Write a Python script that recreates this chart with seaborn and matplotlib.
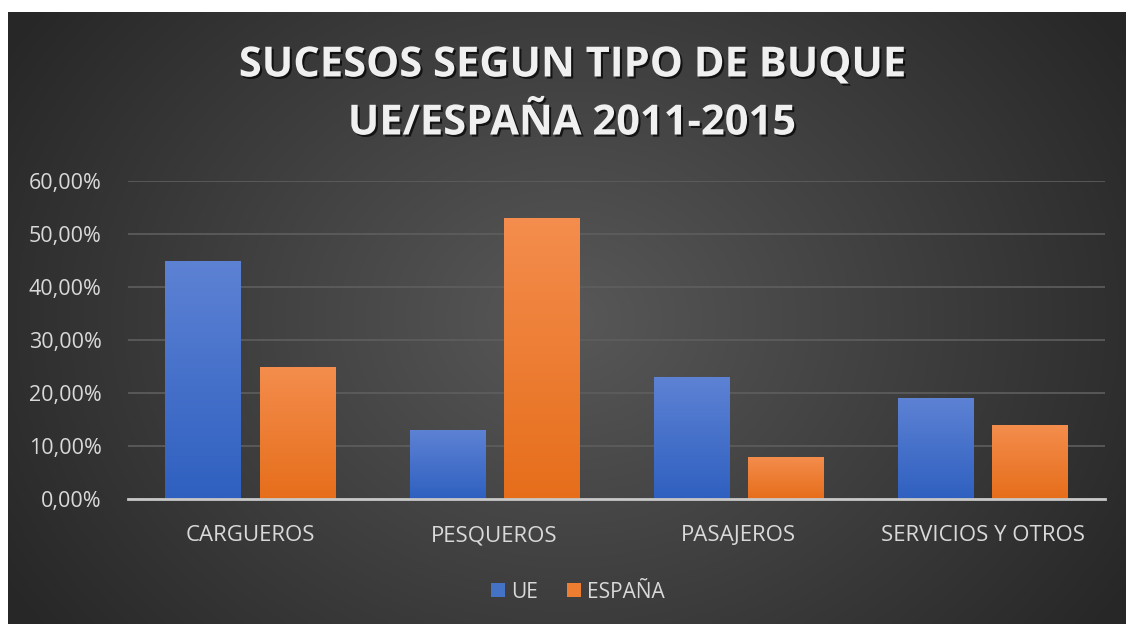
import numpy as np
import pandas as pd
import matplotlib
matplotlib.use("Agg")
import matplotlib.pyplot as plt
import matplotlib.patheffects as pe
from matplotlib.ticker import FuncFormatter
import seaborn as sns

# ---- data ----
categorias = ["CARGUEROS", "PESQUEROS", "PASAJEROS", "SERVICIOS Y OTROS"]
ue = [45, 13, 23, 19]
espana = [25, 53, 8, 14]
series = ["UE", "ESPAÑA"]
titulo = "SUCESOS SEGUN TIPO DE BUQUE\nUE/ESPAÑA 2011-2015"

df = pd.DataFrame({
    "tipo": categorias * 2,
    "region": [series[0]] * len(categorias) + [series[1]] * len(categorias),
    "valor": ue + espana,
})

sns.set_theme(style="dark")
plt.rcParams["font.family"] = ["Open Sans", "DejaVu Sans"]

W, H = 1126, 624
fig = plt.figure(figsize=(W / 100, H / 100), dpi=100, facecolor="white")

# background with radial gradient
bg = fig.add_axes([8 / W, 0, (W - 8) / W, (H - 12) / H])
bg.set_axis_off()
yy, xx = np.mgrid[0:300, 0:560]
cx, cy = 280, 150
r = np.sqrt(((xx - cx) / 330.0) ** 2 + ((yy - cy) / 260.0) ** 2)
r = np.clip(r, 0, 1)
c_in = np.array([0x58, 0x58, 0x58]) / 255
c_out = np.array([0x27, 0x27, 0x27]) / 255
img = c_in[None, None, :] * (1 - r[..., None]) + c_out[None, None, :] * r[..., None]
bg.imshow(img, aspect="auto", extent=[0, 1, 0, 1])
bg.set_xlim(0, 1)
bg.set_ylim(0, 1)

left, right, top, bottom = 128, 1105, 181, 499
ax = fig.add_axes([left / W, 1 - bottom / H, (right - left) / W, (bottom - top) / H])
ax.patch.set_alpha(0)

pal = {"UE": "#4472C4", "ESPAÑA": "#ED7D31"}
sns.barplot(data=df, x="tipo", y="valor", hue="region", palette=pal,
            width=0.77, gap=0.2, saturation=1, linewidth=0, ax=ax,
            legend=True, zorder=3)

# gradient overlay on bars
grads = {
    "UE": (np.array([0x5d, 0x82, 0xd4]), np.array([0x2f, 0x60, 0xc0])),
    "ESPAÑA": (np.array([0xf4, 0x8d, 0x4d]), np.array([0xe6, 0x6e, 0x1b])),
}
bars = [p for p in ax.patches if p.get_height() > 0]
for p in bars:
    fc = p.get_facecolor()
    key = "UE" if fc[2] > fc[0] else "ESPAÑA"
    top_c, bot_c = grads[key]
    t = np.linspace(0, 1, 100)[:, None]
    g = (top_c[None, :] * (1 - t) + bot_c[None, :] * t) / 255
    g = g[:, None, :]
    x0, y0 = p.get_x(), p.get_y()
    w, h = p.get_width(), p.get_height()
    im = ax.imshow(g, aspect="auto", extent=[x0, x0 + w, y0, y0 + h],
                   zorder=3.5, interpolation="bilinear")
    im.set_clip_path(p)
    p.set_path_effects([pe.SimplePatchShadow(offset=(0, 0), shadow_rgbFace="black", alpha=0.35),
                        pe.Normal()])

ax.set_xlim(-0.5, 3.5)
ax.set_ylim(0, 60)
ax.set_yticks(np.arange(0, 61, 10))
ax.yaxis.set_major_formatter(FuncFormatter(lambda v, _: f"{v:.2f}".replace(".", ",") + "%"))
ax.grid(axis="y", color="#5e5e5e", linewidth=1.2, zorder=0)
ax.grid(axis="x", visible=False)
ax.set_axisbelow(True)
for s in ["top", "right", "left"]:
    ax.spines[s].set_visible(False)
ax.spines["bottom"].set_color("#c8c8c8")
ax.spines["bottom"].set_linewidth(2)
ax.spines["bottom"].set_zorder(5)
ax.set_xlabel("")
ax.set_ylabel("")
ax.tick_params(axis="y", colors="#d9d9d9", labelsize=15.5, length=0, pad=19)
ax.tick_params(axis="x", colors="#d9d9d9", labelsize=16, length=0, pad=19)

handles, labels = ax.get_legend_handles_labels()
ax.legend(handles, labels, loc="center", bbox_to_anchor=(578 / W, 1 - 592 / H),
          bbox_transform=fig.transFigure, ncol=2, frameon=False,
          fontsize=15, labelcolor="#d9d9d9", handlelength=0.65, handleheight=0.65,
          handletextpad=0.3, columnspacing=1.4)

fig.text(572 / W, 1 - 95 / H, titulo, ha="center", va="center",
         fontsize=30, fontweight="bold", color="#f0f0f0", linespacing=1.55,
         path_effects=[pe.withSimplePatchShadow(offset=(1.5, -1.5), shadow_rgbFace="black", alpha=0.7)])

fig.savefig("out.png", dpi=100, facecolor="white")
